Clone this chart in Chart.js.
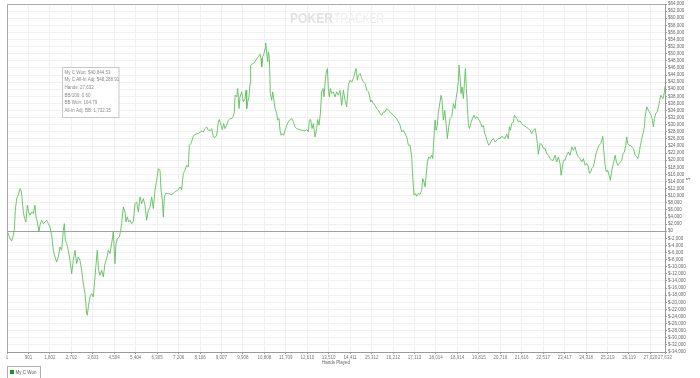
<!DOCTYPE html>
<html lang="en">
<head>
<meta charset="UTF-8">
<title>My C Won</title>
<style>
  body { margin: 0; padding: 0; background: #fff; }
  #wrap { width: 700px; height: 378px; overflow: hidden; }
</style>
</head>
<body>
<div id="wrap"><canvas id="chart" width="700" height="378"></canvas></div>
<script src="https://cdn.jsdelivr.net/npm/chart.js@4.4.1/dist/chart.umd.min.js"></script>
<script>
// hands played (x) and cumulative winnings in $ (y)
const hands = [
  1, 56, 126, 196, 266, 308, 350, 406, 476, 546, 588, 630, 686, 742, 798, 854, 910, 966, 1036, 1106,
  1176, 1218, 1274, 1344, 1386, 1456, 1526, 1596, 1666, 1736, 1806, 1876, 1946, 2016, 2086, 2156, 2226, 2296, 2366, 2408,
  2450, 2506, 2576, 2646, 2716, 2786, 2856, 2926, 2996, 3066, 3136, 3206, 3276, 3346, 3374, 3416, 3486, 3556, 3626, 3696,
  3766, 3794, 3850, 3906, 3976, 4046, 4116, 4186, 4256, 4326, 4396, 4466, 4536, 4578, 4634, 4718, 4774, 4816, 4886, 4956,
  4998, 5054, 5110, 5166, 5236, 5306, 5376, 5446, 5516, 5586, 5656, 5726, 5796, 5866, 5936, 6006, 6076, 6146, 6216, 6286,
  6356, 6426, 6468, 6524, 6566, 6608, 6664, 6776,
  6916, 7056, 7196, 7266, 7336, 7406, 7476, 7546, 7616, 7658, 7728, 7826, 7896, 8036, 8176, 8246, 8316, 8386, 8456, 8526,
  8596, 8666, 8736, 8806, 8876, 8918, 8988, 9044, 9100, 9156, 9226, 9296, 9366, 9436, 9506, 9548, 9576, 9646, 9688, 9744,
  9786, 9856, 9926, 9996, 10038, 10066, 10108, 10164, 10206, 10234, 10276, 10346, 10416, 10486, 10556, 10626, 10668, 10696, 10738, 10794,
  10836, 10864, 10906, 10948, 10976, 11018, 11060, 11116, 11158, 11200, 11256, 11326, 11368, 11424, 11466, 11508, 11564, 11620, 11676, 11746,
  11816, 11886, 11956, 12026, 12096, 12166, 12236, 12376, 12516, 12586, 12656, 12698, 12754, 12810, 12866, 12936, 13006, 13048, 13104, 13160,
  13216, 13272, 13314, 13356, 13398, 13454, 13496, 13538, 13580, 13636, 13706,
  13776, 13846, 13916, 13986, 14056, 14126, 14196, 14266, 14336, 14406, 14476, 14546, 14616, 14658, 14714, 14756, 14826, 14896, 14966, 15036,
  15106, 15176, 15218, 15274, 15316, 15386, 15456, 15526, 15596, 15666, 15736, 15806, 15876, 15946, 16016, 16086, 16226, 16366, 16436, 16506,
  16576, 16646, 16716, 16786, 16856, 16926, 16996, 17038, 17094, 17150, 17206, 17276, 17346, 17416, 17458, 17514, 17556, 17598, 17654, 17710,
  17766, 17836, 17878, 17934, 17976, 18018, 18074, 18116, 18186, 18228, 18270, 18326, 18382, 18438, 18494, 18550, 18606, 18676, 18746, 18816,
  18858, 18914, 18956, 18984, 19026, 19068, 19110, 19166, 19208, 19250, 19292, 19334, 19376, 19418, 19474, 19544, 19614, 19670, 19726, 19782,
  19838, 19894, 19950, 20006, 20062, 20118, 20174, 20230, 20286, 20356, 20426, 20496, 20566, 20636,
  20706, 20776, 20846, 20916, 20986, 21056, 21098, 21140, 21196, 21266, 21308, 21364, 21406, 21476, 21546, 21616, 21686, 21756, 21826, 21896,
  21966, 22036, 22106, 22176, 22218, 22274, 22316, 22386, 22456, 22526, 22596, 22666, 22736, 22806, 22876, 22946, 23016, 23086, 23156, 23226,
  23268, 23324, 23366, 23436, 23506, 23576, 23646, 23716, 23786, 23856, 23926, 23996, 24066, 24136, 24206, 24276, 24346, 24416, 24458, 24514,
  24556, 24626, 24696, 24738, 24808, 24864, 24934, 24976, 25018, 25060, 25116, 25172, 25228, 25284, 25340, 25396, 25466, 25536, 25592, 25648,
  25704, 25760, 25816, 25872, 25928, 25984, 26026, 26068, 26124, 26180, 26236, 26306, 26376, 26446, 26488, 26544, 26600, 26656, 26726, 26768,
  26796, 26866, 26936, 27006, 27048, 27104, 27146, 27188, 27244, 27300, 27356, 27412, 27454, 27496, 27552, 27608, 27632
];
const won = [
  0, -660, -2070, -2720, -1130, 280, 5920, 9200, 10140, 12020, 11740, 9670, 5450, 3570, 2630, 7320, 5450, 4510, 5450, 4980,
  7320, 4040, 2630, -190, 1690, 3100, 2160, 2630, 3100, 2160, 1220, -1130, -5350, -7230, -8640, -7230, -4410, -5350, 280, 2160,
  -2540, -3470, -5350, -8170, -11930, -8170, -5350, -9110, -7230, -8170, -10990, -14740, -17560, -23190, -23660, -21320, -18500, -17560, -18500, -12860,
  -7230, -5350, -10990, -12400, -10990, -12860, -9110, -7700, -5350, -6290, -3470, -190, -9110, -3470, -2070, -1600, 280, 2160, 6860, 5450,
  2630, 4040, 2630, 3100, 2160, 2630, 7790, 8260, 5450, 9670, 7790, 9200, 7320, 3100, 5920, 6860, 9670, 6390, 11550, 14370,
  17650, 17180, 11550, 8730, 4040, 9670, 10610, 10610,
  10330, 11080, 11740, 12490, 11740, 16250, 17180, 18590, 18120, 24230, 24700, 26760, 27330, 27510, 28260, 27980, 28920, 29390, 28450, 28260,
  28920, 26570, 26390, 27040, 30800, 31460, 29860, 28640, 30330, 28920, 29860, 31270, 31740, 31740, 32400, 33620, 38310, 37840, 40190, 34560,
  37840, 39250, 36430, 37370, 39720, 34560, 36430, 37840, 41600, 46760, 47040, 47230, 47700, 48640, 49110, 49860, 48640, 46290, 49110, 50050,
  51460, 53050, 50050, 47700, 50520, 49110, 38780, 36900, 39250, 37370, 34560, 33150, 31270, 31740, 28450, 27040, 27510, 27040, 28450, 29860,
  30800, 31460, 31740, 30800, 29390, 28920, 28730, 28450, 28260, 28640, 27980, 31270, 31460, 28920, 30330, 26570, 28920, 31460, 29860, 33150,
  39250, 40190, 37840, 41600, 44420, 45820, 40190, 37840, 40190, 38780, 39250,
  37840, 39250, 38310, 39720, 35490, 39720, 36900, 35030, 41130, 42540, 42070, 43010, 44880, 45820, 42540, 43950, 44420, 43010, 42070, 41600,
  39720, 39250, 38310, 36430, 36900, 35960, 35490, 34560, 34090, 33150, 32680, 33620, 33620, 34560, 34090, 33620, 32680, 31740, 30800, 29860,
  27980, 28450, 27510, 26570, 24230, 24230, 20940, 15310, 10140, 10610, 9860, 10610, 10420, 11550, 14840, 13900, 12490, 15310, 19530, 20940,
  20470, 21410, 20470, 27040, 31270, 28450, 29860, 33620, 36430, 38310, 36900, 31270, 34090, 30330, 26100, 29390, 31740, 32210, 35960, 34560,
  37370, 39720, 42540, 46760, 43480, 38780, 40660, 37370, 41600, 45820, 40190, 35030, 29860, 28920, 30330, 31740, 32680, 31740, 32210, 31740,
  31270, 30330, 29390, 29860, 27510, 26570, 25170, 24230, 24700, 25640, 26100, 25170, 25640, 26100,
  26100, 26760, 26390, 26100, 27330, 26100, 29390, 28450, 30330, 30800, 32680, 32210, 31740, 30800, 31080, 30330, 29860, 29580, 29200, 28920,
  28450, 27510, 28450, 28920, 27510, 24700, 21690, 24700, 24510, 23290, 23290, 21880, 21410, 20470, 20000, 20000, 21410, 19530, 20940, 19060,
  15780, 18120, 20000, 20000, 21410, 22350, 21410, 23760, 22820, 23760, 21880, 20940, 20470, 19530, 20470, 18590, 19060, 18120, 16250, 16710,
  17650, 18120, 20470, 21880, 23290, 24230, 24700, 25640, 26760, 22820, 18590, 16710, 17180, 15780, 14370, 17180, 19060, 21410, 19530, 18590,
  19060, 19530, 20000, 21880, 22350, 24230, 26570, 24700, 24230, 24230, 23760, 23290, 21410, 20940, 20470, 21880, 24230, 26100, 27980, 29390,
  32210, 35030, 34090, 33150, 32680, 31270, 29390, 31740, 33150, 33620, 35030, 36900, 38310, 37840, 37370, 39250, 40845
];
const xTicks = [1, 901, 1802, 2702, 3603, 4504, 5404, 6305, 7206, 8106, 9007, 9908, 10808, 11709, 12610, 13510,
  14411, 15312, 16212, 17113, 18014, 18914, 19815, 20716, 21616, 22517, 23417, 24318, 25219, 26119, 27020, 27632];
const yMin = -34000, yMax = 64000, yStep = 2000;
const infoLines = ['My C Won: $40,844.53', 'My C All-In Adj: $48,288.91', 'Hands: 27,632',
  'BB/100: 0.60', 'BB Won: 164.79', 'All-In Adj. BB: 1,732.35'];

const FONT = 'Liberation Sans, Arial, sans-serif';

function money(v) {
  return v < 0 ? '$-' + Math.abs(v).toLocaleString('en-US') : '$' + v.toLocaleString('en-US');
}

// frame lines, watermark, stats box, axis mark and bottom legend
const extras = {
  id: 'extras',
  beforeDatasetsDraw(chart) {
    const c = chart.ctx;
    // watermark
    c.save();
    c.textBaseline = 'middle';
    c.font = 'bold 15px ' + FONT;
    let w = c.measureText('POKER').width;
    c.translate(290, 19);
    c.scale(43 / w, 1);
    c.fillStyle = '#e2e2e2';
    c.fillText('POKER', 0, 0);
    c.restore();
    c.save();
    c.textBaseline = 'middle';
    c.font = '15px ' + FONT;
    w = c.measureText('TRACKER').width;
    c.translate(334, 19);
    c.scale(50 / w, 1);
    c.fillStyle = '#ededed';
    c.fillText('TRACKER', 0, 0);
    c.restore();
  },
  afterDraw(chart) {
    const c = chart.ctx;
    const a = chart.chartArea;
    c.save();
    // top + left frame
    c.strokeStyle = '#a8a8a8';
    c.lineWidth = 1;
    c.beginPath();
    c.moveTo(a.left + 0.5, a.bottom);
    c.lineTo(a.left + 0.5, a.top + 0.5);
    c.lineTo(a.right, a.top + 0.5);
    c.stroke();

    // stats box
    c.fillStyle = '#fff';
    c.fillRect(62.5, 67.5, 56.5, 50);
    c.strokeStyle = '#c8c8c8';
    c.strokeRect(62.5, 67.5, 56.5, 50);
    c.font = '4.5px ' + FONT;
    c.fillStyle = '#8a8a8a';
    c.textBaseline = 'middle';
    infoLines.forEach((t, i) => c.fillText(t, 64.5, 72.4 + i * 7.7));

    // small rotated y-axis title
    c.save();
    c.translate(689, 179);
    c.rotate(-Math.PI / 2);
    c.textAlign = 'center';
    c.fillStyle = '#777';
    c.fillText('$', 0, 0);
    c.restore();

    // legend
    c.strokeStyle = '#b0b0b0';
    c.strokeRect(7.5, 366.5, 33, 14);
    c.fillStyle = '#1f8f1f';
    c.fillRect(10, 370, 4, 4);
    c.fillStyle = '#555';
    c.fillText(chart.data.datasets[0].label, 15.5, 372.3);
    c.restore();
  }
};

new Chart(document.getElementById('chart'), {
  type: 'line',
  data: {
    datasets: [{
      label: 'My C Won',
      data: hands.map((h, i) => ({ x: h, y: won[i] })),
      borderColor: '#5cc05c',
      borderWidth: 0.9,
      pointRadius: 0,
      tension: 0,
      fill: false
    }]
  },
  options: {
    responsive: false,
    animation: false,
    devicePixelRatio: 1,
    layout: { padding: { left: 7, top: 4, right: 0, bottom: 0 } },
    plugins: { legend: { display: false }, tooltip: { enabled: false } },
    scales: {
      x: {
        type: 'linear',
        min: 1,
        max: 27632,
        afterBuildTicks: s => { s.ticks = xTicks.map(v => ({ value: v })); },
        afterFit: s => { s.height = 26; },
        ticks: {
          autoSkip: false, maxRotation: 0, padding: 1,
          font: { size: 4.5, family: FONT }, color: '#777',
          callback: v => v.toLocaleString('en-US')
        },
        grid: { color: '#f1f1f1', tickColor: '#999', tickLength: 2 },
        border: { color: '#9a9a9a' },
        title: {
          display: true, text: 'Hands Played', color: '#666',
          font: { size: 4.5, family: FONT }, padding: { top: 0, bottom: 13 }
        }
      },
      y: {
        position: 'right',
        min: yMin,
        max: yMax,
        afterFit: s => { s.width = 35; },
        ticks: {
          stepSize: yStep, autoSkip: false, padding: 1,
          font: { size: 4.5, family: FONT }, color: '#666',
          callback: v => money(v)
        },
        grid: {
          color: c => (c.tick && c.tick.value === 0) ? '#a0a0a0' : '#f1f1f1',
          tickColor: '#999', tickLength: 2
        },
        border: { color: '#9a9a9a' }
      }
    }
  },
  plugins: [extras]
});
</script>
</body>
</html>
